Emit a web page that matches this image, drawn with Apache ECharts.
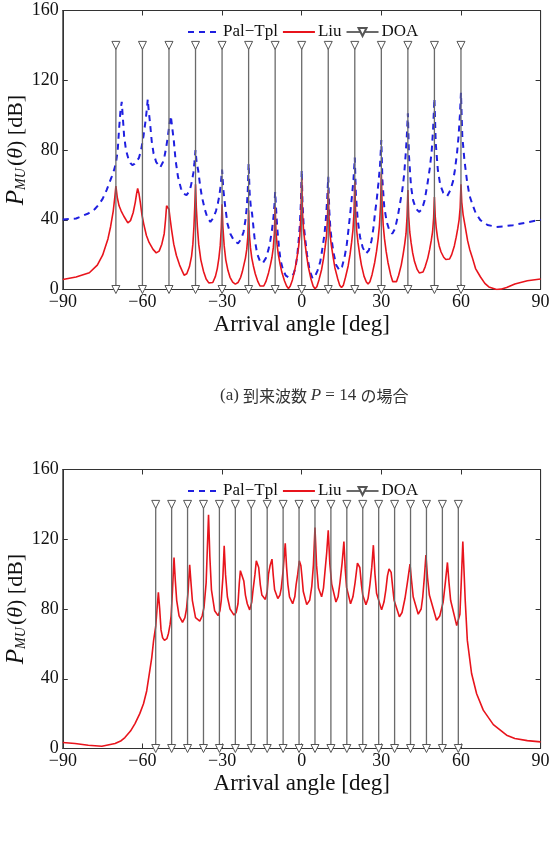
<!DOCTYPE html>
<html>
<head>
<meta charset="utf-8">
<script src="https://cdn.jsdelivr.net/npm/echarts@6/dist/echarts.min.js"></script>
<style>
  html, body { margin: 0; padding: 0; background: #fff; }
  #chart { width: 553px; height: 842px; }
</style>
</head>
<body>
<div id="chart"></div>
<script>
// axis ticks
const xTicks = [-90, -60, -30, 0, 30, 60, 90];
const yTicks = [0, 40, 80, 120, 160];

// DOA markers (true arrival angles), drawn from 0 to 140 dB
const doaLevels = [0, 140];
const doaA = [-70, -60, -50, -40, -30, -20, -10, 0, 10, 20, 30, 40, 50, 60];
const doaB = [-55, -49, -43, -37, -31, -25, -19, -13, -7, -1, 5, 11, 17, 23, 29, 35, 41, 47, 53, 59];

// (a) P = 14 : Pal-Tpl spectrum [deg, dB]
const palA = [
  [-90, 40.2], [-85, 40.7], [-80.4, 43.6], [-78, 46], [-76.6, 48.4], [-75, 52], [-73.5, 57], [-72.5, 61],
  [-71.6, 64.6], [-70.8, 68], [-70, 72.3], [-69.3, 80], [-68.8, 92], [-68.3, 102], [-67.8, 107.6], [-67.4, 99],
  [-66.9, 88], [-66.2, 80], [-65.3, 75], [-64.5, 72.5], [-63.8, 71.3], [-63, 72], [-62, 74], [-61.3, 75.5],
  [-60.5, 80], [-59.6, 88], [-58.8, 97], [-58.3, 104], [-58, 109], [-57.6, 102], [-57.1, 95], [-56.5, 85],
  [-55.8, 78], [-54.8, 73], [-53.3, 70], [-52.3, 73], [-51.6, 77], [-51, 82], [-50.4, 88], [-49.8, 95],
  [-49.3, 99.6], [-48.8, 93], [-48.2, 85.7], [-47.5, 74], [-46.6, 64.6], [-45.5, 58], [-44.5, 55], [-43.4, 54.1],
  [-42.5, 56], [-41.8, 59], [-41.3, 62.7], [-40.8, 67], [-40.4, 73], [-40, 79.9], [-39.6, 73], [-39, 68.4],
  [-38.3, 60], [-37.6, 53.2], [-36.5, 46], [-35.5, 41], [-34.4, 38.8], [-33.3, 41], [-32.3, 45], [-31.6, 49.3],
  [-31, 54], [-30.5, 60], [-30, 68.8], [-29.5, 57], [-28.8, 47.4], [-28, 38], [-26.9, 32], [-25.5, 28],
  [-24, 26.4], [-22.8, 29], [-21.9, 33], [-21.2, 39.8], [-20.7, 47], [-20.3, 57], [-20, 72.3], [-19.6, 55],
  [-19.2, 48], [-18.7, 43.6], [-17.8, 30], [-16.8, 20.6], [-15.8, 16.5], [-14.7, 15], [-13.5, 18], [-12.5, 23],
  [-11.8, 28.3], [-11.2, 34], [-10.6, 42], [-10.2, 50], [-10, 56], [-9.6, 45], [-9.2, 35], [-8.6, 25],
  [-8, 17], [-7, 11], [-6, 8], [-5, 7], [-4, 7.5], [-3, 9], [-2.3, 13], [-1.7, 19],
  [-1.2, 27], [-0.7, 37], [-0.3, 50], [0, 68.4], [0.3, 50], [0.7, 38], [1.25, 30], [2, 20],
  [3, 11], [4.1, 6.3], [5, 7.5], [6, 11], [7, 16], [7.9, 24.5], [8.6, 32], [9.2, 42],
  [9.6, 52], [10, 64.6], [10.4, 45], [10.8, 35], [11.3, 28.3], [12, 21], [13, 14], [14.2, 11],
  [15.2, 13], [16.2, 19], [17, 26], [17.6, 34], [18.3, 44], [18.9, 53], [19.5, 63], [20, 75.7],
  [20.4, 55], [21.1, 39.8], [22, 30], [23, 24], [24.2, 20.6], [25.3, 22.5], [26.3, 28], [27, 35],
  [27.6, 43.6], [28.3, 52], [28.9, 61], [29.5, 71], [30, 85.7], [30.4, 63], [31.1, 47.4], [32, 39],
  [33, 34], [34.1, 32], [35.2, 35], [36.2, 42], [37, 49], [37.9, 57], [38.6, 66], [39.2, 78],
  [39.6, 88], [40, 101], [40.4, 77], [41.2, 58.9], [42, 51], [43, 46.5], [44.2, 44.5], [45.3, 46],
  [46.3, 51], [47.4, 60.8], [48.3, 70], [49, 80], [49.5, 92], [50, 109.6], [50.5, 84], [51.3, 68.4],
  [52.2, 60], [53.3, 55.5], [54.8, 53.5], [56, 57], [57, 62], [57.7, 68.4], [58.5, 78], [59.1, 88],
  [59.6, 100], [60, 112.8], [60.5, 88], [61.3, 74.2], [62.3, 62], [63.2, 54], [64.2, 49.3], [65.5, 44],
  [67.3, 39.8], [70, 37], [73.4, 35.9], [76, 36.2], [79.6, 36.9], [85, 38.5], [90, 40]
];

// (a) P = 14 : Liu spectrum [deg, dB]
const liuA = [
  [-90, 5.7], [-85, 7.2], [-80, 9.6], [-77, 14], [-75, 19.7], [-73, 29], [-72, 36], [-71, 45],
  [-70.4, 53], [-70, 59.3], [-69.5, 53], [-68.8, 48], [-68, 45], [-67, 42], [-65.5, 38.2], [-64.5, 39.5],
  [-63.5, 44], [-62.7, 50], [-62.2, 55], [-61.8, 57.9], [-61.3, 55], [-60.8, 50], [-60.2, 43], [-59.5, 37.5],
  [-58.5, 31], [-57.5, 27], [-56, 23], [-54.8, 21], [-53.7, 22], [-52.7, 26], [-51.8, 32], [-51.3, 40],
  [-50.9, 48], [-50.4, 48], [-50, 46], [-49.6, 41], [-49, 34], [-48.2, 26], [-47.2, 19.5], [-46, 14],
  [-45, 10.5], [-44.3, 8.2], [-43.3, 9], [-42.3, 13], [-41.5, 19], [-41, 26], [-40.6, 36], [-40.3, 47],
  [-40, 60.4], [-39.7, 47], [-39.3, 36], [-38.8, 26], [-38, 17], [-37, 10.5], [-36, 6], [-35, 3.8],
  [-34.4, 3.1], [-33.5, 4], [-32.5, 7.5], [-31.8, 12], [-31.2, 18], [-30.7, 25], [-30.3, 35], [-30, 48.9],
  [-29.7, 36], [-29.2, 25], [-28.6, 17], [-27.8, 11], [-27, 7], [-26, 4.2], [-25, 3.1], [-24, 4],
  [-23, 7], [-22.4, 10], [-21.8, 14], [-21.2, 18], [-20.7, 23], [-20.3, 30], [-20, 45.5], [-19.7, 31],
  [-19.3, 24], [-18.8, 18], [-18.2, 13.5], [-17.5, 9], [-16.5, 4.5], [-15.7, 2], [-15, 1], [-14.3, 2],
  [-13.5, 4.5], [-12.5, 9.5], [-11.8, 14], [-11.2, 18.5], [-10.7, 24], [-10.3, 32], [-10, 47.4], [-9.7, 33],
  [-9.3, 26], [-8.8, 20], [-8.2, 15], [-7.5, 10], [-6.5, 5], [-5.7, 2], [-5, 0.5], [-4.3, 2],
  [-3.5, 5.5], [-2.5, 12], [-1.8, 18], [-1.2, 24], [-0.7, 31], [-0.3, 42], [0, 63.7], [0.3, 44],
  [0.7, 34], [1.2, 27], [1.8, 20], [2.5, 13], [3.5, 6], [4.3, 2], [5, 0.4], [5.7, 1.6],
  [6.5, 5.5], [7.5, 11.5], [8.2, 17.5], [8.8, 24], [9.3, 30], [9.7, 40], [10, 57], [10.3, 41],
  [10.7, 31], [11.2, 25], [11.8, 19], [12.5, 12.5], [13.5, 6.5], [14.3, 2.5], [15, 1.1], [15.7, 2.5],
  [16.5, 7], [17.5, 13.5], [18.2, 20], [18.8, 27], [19.3, 34], [19.7, 44], [20, 61.8], [20.3, 44],
  [20.7, 34], [21.2, 27], [21.8, 20.5], [22.5, 14], [23.5, 7.5], [24.3, 4.5], [25, 3.1], [25.7, 4.5],
  [26.5, 8.5], [27.5, 15.5], [28.2, 22], [28.8, 29], [29.3, 37], [29.7, 48], [30, 66.5], [30.3, 48],
  [30.7, 37], [31.2, 29], [31.8, 22], [32.5, 15.5], [33.5, 8.5], [34.3, 4.5], [35, 3.4], [35.7, 4.5],
  [36.5, 8], [37.5, 14], [38.2, 20], [38.8, 26], [39.3, 32], [39.7, 42], [40, 57], [40.3, 42],
  [40.7, 33], [41.2, 27], [41.8, 21], [42.5, 16], [43.5, 11.5], [44.3, 9.5], [45, 9.2], [45.7, 10],
  [46.5, 13], [47.5, 18], [48.2, 23], [48.8, 28], [49.3, 33], [49.7, 41], [50, 53], [50.3, 42],
  [50.7, 35], [51.2, 29.5], [51.8, 25], [52.5, 21.5], [53.5, 18.5], [54.3, 17.2], [55, 16.8], [55.7, 17.5],
  [56.5, 20], [57.5, 25], [58.2, 30], [58.8, 35], [59.3, 40], [59.7, 47], [60, 60.4], [60.3, 50],
  [60.8, 43], [61.6, 36], [62.5, 28], [63.3, 23], [64.2, 18.7], [65.5, 12], [67.3, 7.3], [69, 3.5],
  [70.5, 1.5], [73.4, 0], [75, 0.2], [77.2, 1.1], [80.3, 3.1], [85, 5], [90, 6]
];

// (b) : Pal-Tpl is off the scale, Liu spectrum [deg, dB]
const palB = [];
const liuB = [
  [-90, 3.4], [-85.4, 2.9], [-80.4, 1.9], [-75.3, 1.3], [-70.3, 2.9], [-68, 4.5], [-66.6, 6.3], [-64.5, 10],
  [-62.8, 14.3], [-61, 20], [-59.6, 25.7], [-58.4, 33], [-57.4, 42.9], [-56.5, 52], [-55.8, 61.9], [-55, 70],
  [-54.5, 80], [-54, 89.5], [-53.5, 80], [-53, 68], [-52.4, 63.5], [-51.7, 62], [-50.8, 63], [-50.2, 66],
  [-49.6, 71], [-49.2, 76], [-48.7, 90], [-48.1, 109.5], [-47.6, 96], [-47.1, 85], [-46.2, 76], [-44.9, 72.4],
  [-44, 75], [-43.4, 80], [-42.8, 90], [-42.2, 105.3], [-41.7, 95], [-41.2, 85], [-40, 75], [-38.4, 73],
  [-37.5, 76], [-36.8, 81], [-36, 95], [-35.1, 134], [-34.6, 110], [-34, 91], [-32.8, 79], [-31.5, 76.2],
  [-30.8, 79], [-30.3, 85], [-29.7, 98], [-29.2, 116.2], [-28.7, 100], [-28, 87], [-27, 80], [-25.5, 76.5],
  [-24.7, 78], [-24, 83], [-23.5, 95], [-23.1, 102], [-22.4, 101], [-21.8, 96], [-21.2, 88], [-20.5, 83],
  [-19.6, 79.5], [-18.8, 84], [-18.4, 90], [-17.6, 100], [-17.1, 107.6], [-16.2, 103.8], [-15.6, 94], [-15, 88],
  [-13.7, 85.5], [-13, 90], [-12.5, 100], [-11.9, 105], [-11.2, 108.6], [-10.7, 99], [-10.2, 91], [-9, 86],
  [-8.2, 88], [-7.7, 92], [-7, 102], [-6.2, 117.7], [-5.7, 104], [-5.2, 94], [-4.6, 87], [-3.4, 83],
  [-2.6, 87], [-2.1, 94], [-1.5, 100], [-0.9, 107.6], [-0.3, 104.8], [0.2, 97], [0.6, 90], [1.9, 82.5],
  [3, 85], [3.8, 93], [4.4, 105], [5, 126.7], [5.6, 105], [6.3, 92], [7.5, 87], [8.2, 92],
  [8.8, 102], [9.4, 112], [10, 125.2], [10.6, 106], [11.3, 94.3], [12.9, 84], [13.7, 87], [14.4, 95],
  [15.2, 106], [15.9, 118.7], [16.4, 103], [16.9, 92.4], [18.4, 83], [19.3, 87], [20.1, 95], [21, 106.3],
  [21.9, 103.8], [22.5, 94], [23, 88], [24.2, 82.5], [25, 86], [25.7, 94], [26.4, 104], [27, 116.6],
  [27.6, 100], [28.2, 89], [30.1, 79.5], [31, 84], [31.7, 91], [32.3, 99], [32.9, 103], [33.7, 101],
  [34.3, 92], [34.8, 85], [36.8, 75.5], [37.8, 78], [38.9, 86], [39.8, 95], [40.8, 105.7], [41.4, 96],
  [42, 87], [43.9, 77], [45, 80], [45.6, 87], [46.2, 98], [46.8, 111], [47.4, 98], [48.1, 88],
  [50.8, 73.5], [52, 76], [53.3, 84], [54.1, 95], [54.9, 106.7], [55.5, 95], [56.1, 85], [58.4, 70.5],
  [59.6, 77], [60.1, 95], [60.7, 118.7], [61.2, 100], [61.6, 85], [62.4, 62], [64, 43], [65.9, 31.4],
  [68.4, 22], [72.2, 13.7], [77.2, 7.6], [80.3, 5.7], [85, 4.5], [90, 3.8]
];

const serif = 'Liberation Serif';
const gridTops = [10.5, 469.5];
const panels = [
  { pal: palA, liu: liuA, doa: doaA },
  { pal: palB, liu: liuB, doa: doaB }
];

const grids = [], xAxes = [], yAxes = [], series = [], legends = [];
const fmt = v => String(v).replace('-', '\u2212');

panels.forEach((p, g) => {
  grids.push({ left: 62.8, top: gridTops[g], width: 477.8, height: 279,
    outerBoundsMode: 'none', containLabel: false,
    show: true, borderColor: '#333', borderWidth: 1, backgroundColor: 'transparent' });

  const xBase = { type: 'value', gridIndex: g, min: xTicks[0], max: xTicks[xTicks.length - 1], interval: 30,
    splitLine: { show: false }, axisLine: { onZero: false, lineStyle: { color: '#333' } },
    axisTick: { inside: true, length: 5, lineStyle: { color: '#333' } } };
  xAxes.push(Object.assign({}, xBase, {
    position: 'bottom',
    axisLabel: { formatter: fmt, fontFamily: serif, fontSize: 18, color: '#111', margin: 4 },
    name: 'Arrival angle [deg]', nameLocation: 'middle', nameGap: 24, nameMoveOverlap: false,
    nameTextStyle: { fontFamily: serif, fontSize: 23, color: '#111' }
  }));
  xAxes.push(Object.assign({}, xBase, { position: 'top', axisLabel: { show: false } }));

  const yBase = { type: 'value', gridIndex: g, min: yTicks[0], max: yTicks[yTicks.length - 1], interval: 40,
    splitLine: { show: false }, axisLine: { show: true, onZero: false, lineStyle: { color: '#333' } },
    axisTick: { show: true, inside: true, length: 5, lineStyle: { color: '#333' } } };
  yAxes.push(Object.assign({}, yBase, {
    position: 'left',
    axisLabel: { fontFamily: serif, fontSize: 18, color: '#111', margin: 4 },
    name: '{p|P}{s|MU}{n|(}{t|θ}{n|) [dB]}', nameLocation: 'middle', nameGap: 34, nameRotate: 90,
    nameMoveOverlap: false,
    nameTextStyle: { fontFamily: serif, fontSize: 22, color: '#111',
      rich: {
        p: { fontFamily: serif, fontStyle: 'italic', fontSize: 25, color: '#111' },
        s: { fontFamily: serif, fontStyle: 'italic', fontSize: 14, color: '#111', verticalAlign: 'bottom', padding: [9, 2, 0, 0] },
        n: { fontFamily: serif, fontSize: 22, color: '#111' },
        t: { fontFamily: serif, fontStyle: 'italic', fontSize: 22, color: '#111' }
      } }
  }));
  yAxes.push(Object.assign({}, yBase, { position: 'right', axisLabel: { show: false } }));

  const xi = 2 * g, yi = 2 * g;
  series.push({ name: 'Pal\u2212Tpl', type: 'line', xAxisIndex: xi, yAxisIndex: yi, data: p.pal,
    showSymbol: false, symbol: 'none', smooth: false, z: 2,
    lineStyle: { color: '#1f1fe0', width: 2, type: [6, 5] }, itemStyle: { color: '#1f1fe0' } });
  series.push({ name: 'Liu', type: 'line', xAxisIndex: xi, yAxisIndex: yi, data: p.liu,
    showSymbol: false, symbol: 'none', smooth: false, z: 3,
    lineStyle: { color: '#e8141c', width: 1.6 }, itemStyle: { color: '#e8141c' } });
  p.doa.forEach(a => {
    series.push({ name: 'DOA', type: 'line', xAxisIndex: xi, yAxisIndex: yi,
      data: doaLevels.map(v => [a, v]), z: 4,
      symbol: 'triangle', symbolRotate: 180, symbolSize: 8, showSymbol: true,
      lineStyle: { color: '#6a6a6a', width: 1.3 },
      itemStyle: { color: '#fff', borderColor: '#555', borderWidth: 1 } });
  });

  legends.push({
    data: [
      { name: 'Pal\u2212Tpl', itemStyle: { opacity: 0 } },
      { name: 'Liu', itemStyle: { opacity: 0 } },
      { name: 'DOA' }
    ],
    left: 182, top: gridTops[g] + 8,
    itemWidth: 32, itemHeight: 10, itemGap: 4, selectedMode: false,
    textStyle: { fontFamily: serif, fontSize: 17, color: '#111', padding: [0, 0, 0, -2] } });
});

const chart = echarts.init(document.getElementById('chart'));
chart.setOption({
  animation: false,
  backgroundColor: '#fff',
  grid: grids,
  xAxis: xAxes,
  yAxis: yAxes,
  legend: legends,
  series: series,
  graphic: [{
    type: 'text', left: 220, top: 387,
    style: {
      text: '{a|(a) }{j|到来波数 }{i|P}{a| = 14 }{j|の場合}',
      rich: {
        a: { fontFamily: serif, fontSize: 17, fill: '#333' },
        i: { fontFamily: serif, fontStyle: 'italic', fontSize: 17, fill: '#333' },
        j: { fontFamily: 'Noto Sans CJK JP', fontSize: 16, fill: '#333' }
      }
    }
  }]
});
</script>
</body>
</html>
